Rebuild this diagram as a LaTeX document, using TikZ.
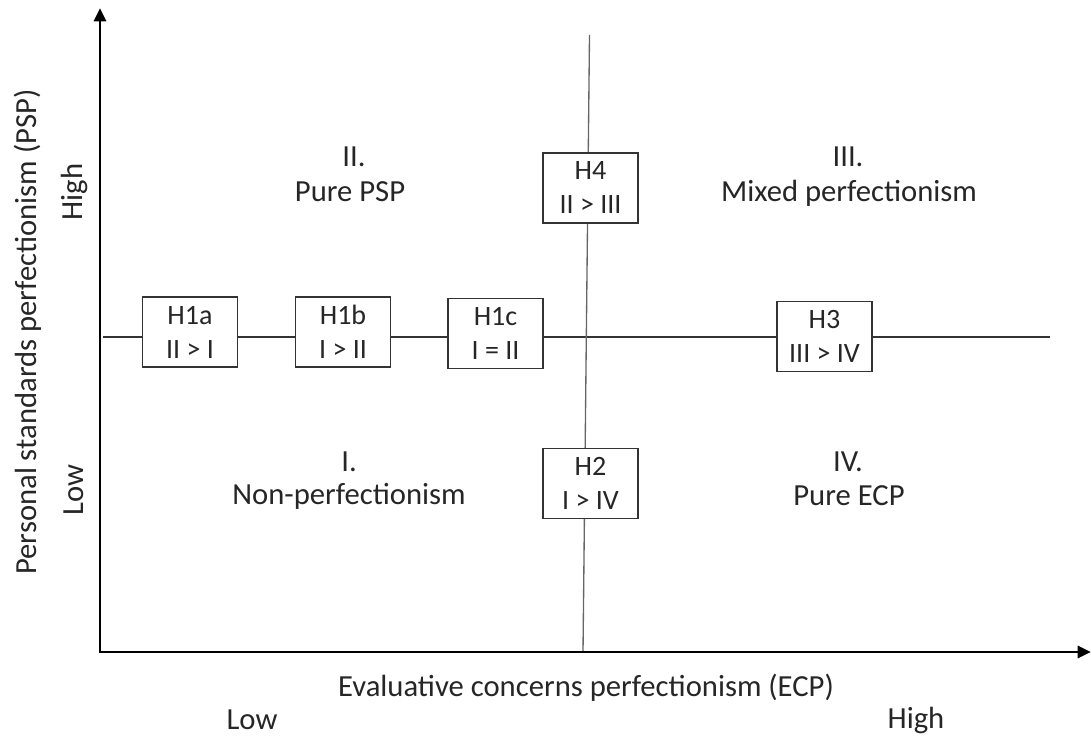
\documentclass[tikz,border=0pt]{standalone}
\usepackage{fontspec}
\setmainfont{Carlito}
\usetikzlibrary{arrows.meta}
\begin{document}
\begin{tikzpicture}[x=0.75pt,y=-0.75pt,
  lbl/.style={font=\fontsize{23}{27}\selectfont, text=black!85, align=center},
  hbox/.style={draw=black!80, line width=1.1pt, fill=white, minimum width=71.5pt, minimum height=52.5pt, inner sep=0pt, align=center, font=\fontsize{21}{25.5}\selectfont, text=black!85},
  axis/.style={line width=2.2pt, -{Triangle[length=10pt,width=9pt]}},
  thin/.style={draw=black!80, line width=1pt}]
\useasboundingbox (0,0) rectangle (1091,737);
% axes
\coordinate (O) at (100,652);
\coordinate (ytip) at (100,8);
\coordinate (xtip) at (1091,652);
% lines
\coordinate (hl) at (103,337);
\coordinate (hr) at (1050,337);
\coordinate (vt) at (589.5,35);
\coordinate (vb) at (583,652);
\draw[thin] (hl) -- (hr);
\draw[draw=black!60, line width=1pt] (vt) -- (vb);
\draw[axis] (100,653) -- (ytip);
\draw[axis] (99,652) -- (xtip);
% boxes
\node[hbox] (h1a) at (190,332) {H1a\\II > I};
\node[hbox] (h1b) at (343,332) {H1b\\I > II};
\node[hbox] (h1c) at (495.5,333.5) {H1c\\I = II};
\node[hbox] (h4) at (590.5,188) {H4\\II > III};
\node[hbox] (h2) at (590.5,483.5) {H2\\I > IV};
\node[hbox] (h3) at (824.5,336.5) {H3\\III > IV};
% quadrant labels
\node[lbl] (q2a) at (354,157) {II.};
\node[lbl] (q2b) at (350,192) {Pure PSP};
\node[lbl] (q3a) at (848,157) {III.};
\node[lbl] (q3b) at (849,193) {Mixed perfectionism};
\node[lbl] (q1a) at (349,462) {I.};
\node[lbl] (q1b) at (349,496) {Non-perfectionism};
\node[lbl] (q4a) at (848,462) {IV.};
\node[lbl] (q4b) at (849,496) {Pure ECP};
% axis labels
\node[lbl, rotate=90] (yhigh) at (74,192) {High};
\node[lbl, rotate=90] (ylow) at (74,490) {Low};
\node[lbl, rotate=90] (ytitle) at (28,332) {Personal standards perfectionism (PSP)};
\node[lbl] (xtitle) at (586,688) {Evaluative concerns perfectionism (ECP)};
\node[lbl] (xlow) at (252,720) {Low};
\node[lbl] (xhigh) at (916,720) {High};
\end{tikzpicture}
\end{document}
